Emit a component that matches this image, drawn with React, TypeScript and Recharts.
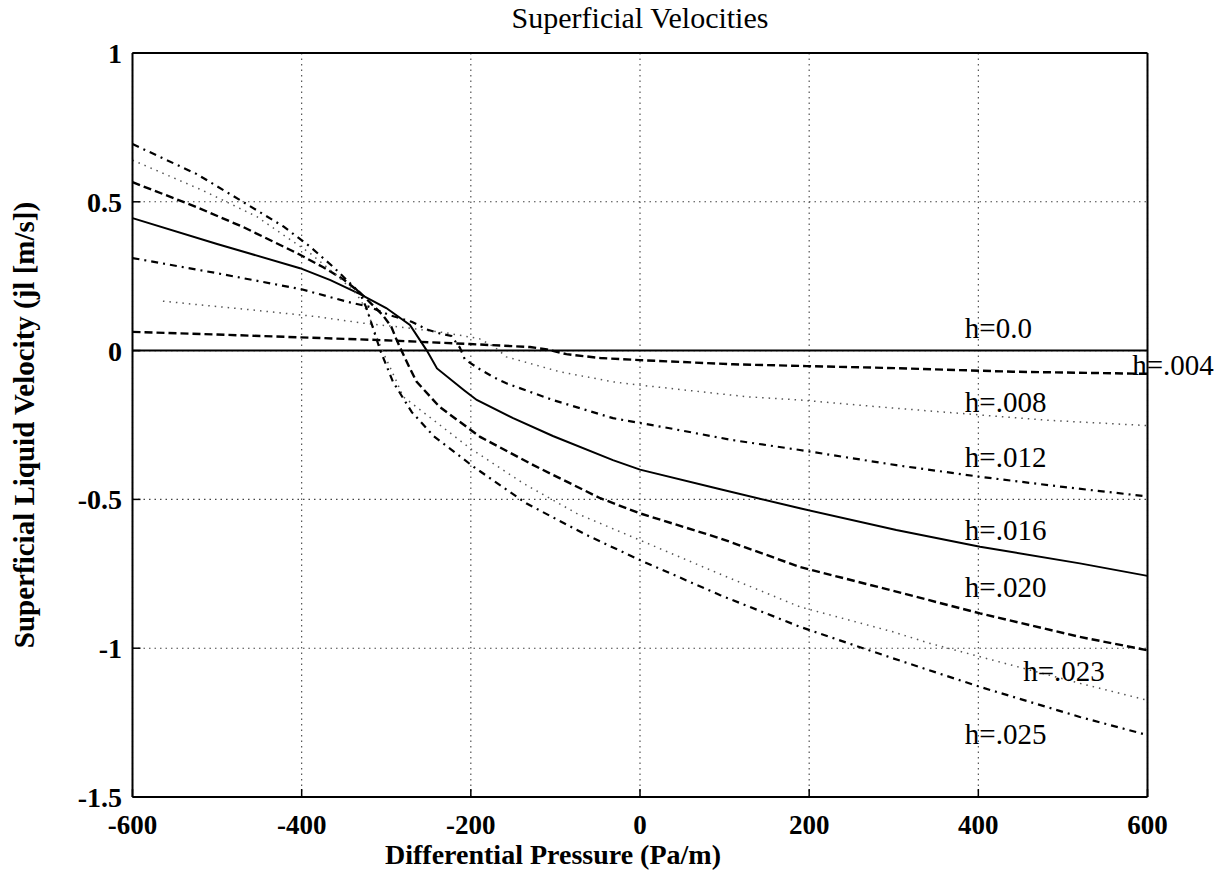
import React from "react";
import { LineChart, Line, XAxis, YAxis, CartesianGrid, ReferenceDot, ReferenceLine } from "recharts";

// Axis ticks
const xTicks = [-600, -400, -200, 0, 200, 400, 600];
const yTicks = [-1.5, -1, -0.5, 0, 0.5, 1];

// Superficial liquid velocity vs differential pressure, one array per liquid height h
const h000 = [
  { x: -600, y: 0 }, { x: 600, y: 0 },
];

const h004 = [
  { x: -600, y: 0.063 }, { x: -500, y: 0.054 }, { x: -406, y: 0.045 }, { x: -304, y: 0.035 },
  { x: -201, y: 0.022 }, { x: -130, y: 0.012 }, { x: -110, y: 0.004 }, { x: -87, y: -0.012 },
  { x: -47, y: -0.025 }, { x: 0, y: -0.032 }, { x: 110, y: -0.046 }, { x: 197, y: -0.052 },
  { x: 303, y: -0.059 }, { x: 441, y: -0.071 }, { x: 600, y: -0.078 },
];

const h008 = [
  { x: -564, y: 0.166 }, { x: -446, y: 0.133 }, { x: -382, y: 0.114 },
  { x: -327, y: 0.092 }, { x: -280, y: 0.078 }, { x: -230, y: 0.06 }, { x: -190, y: 0.04 },
  { x: -172, y: 0.012 }, { x: -158, y: -0.021 }, { x: -95, y: -0.071 }, { x: -32, y: -0.105 },
  { x: 0, y: -0.116 }, { x: 126, y: -0.155 }, { x: 189, y: -0.166 }, { x: 299, y: -0.193 },
  { x: 481, y: -0.234 }, { x: 600, y: -0.252 },
];

const h012 = [
  { x: -600, y: 0.311 }, { x: -500, y: 0.26 }, { x: -400, y: 0.206 }, { x: -346, y: 0.164 },
  { x: -320, y: 0.147 }, { x: -296, y: 0.119 }, { x: -270, y: 0.097 }, { x: -252, y: 0.071 },
  { x: -237, y: 0.058 }, { x: -223, y: 0.049 }, { x: -213, y: 0.01 }, { x: -207, y: -0.03 },
  { x: -191, y: -0.06 }, { x: -174, y: -0.088 }, { x: -158, y: -0.11 }, { x: -103, y: -0.166 },
  { x: -32, y: -0.227 }, { x: 35, y: -0.261 }, { x: 110, y: -0.301 }, { x: 189, y: -0.334 },
  { x: 303, y: -0.385 }, { x: 402, y: -0.424 }, { x: 500, y: -0.458 }, { x: 600, y: -0.49 },
];

const h016 = [
  { x: -600, y: 0.445 }, { x: -500, y: 0.358 }, { x: -402, y: 0.277 }, { x: -366, y: 0.237 },
  { x: -331, y: 0.19 }, { x: -300, y: 0.143 }, { x: -272, y: 0.086 }, { x: -252, y: 0.0 },
  { x: -240, y: -0.06 }, { x: -208, y: -0.133 }, { x: -193, y: -0.166 }, { x: -150, y: -0.227 },
  { x: -103, y: -0.287 }, { x: -32, y: -0.368 }, { x: 0, y: -0.4 }, { x: 95, y: -0.466 },
  { x: 189, y: -0.53 }, { x: 303, y: -0.603 }, { x: 402, y: -0.659 }, { x: 520, y: -0.715 },
  { x: 600, y: -0.757 },
];

const h020 = [
  { x: -600, y: 0.566 }, { x: -524, y: 0.482 }, { x: -469, y: 0.415 }, { x: -406, y: 0.328 },
  { x: -375, y: 0.281 }, { x: -351, y: 0.24 }, { x: -331, y: 0.195 }, { x: -304, y: 0.119 },
  { x: -294, y: 0.08 }, { x: -288, y: 0.038 }, { x: -282, y: 0.0 }, { x: -272, y: -0.06 },
  { x: -264, y: -0.105 }, { x: -237, y: -0.189 }, { x: -189, y: -0.29 }, { x: -126, y: -0.385 },
  { x: -47, y: -0.496 }, { x: 0, y: -0.547 }, { x: 95, y: -0.631 }, { x: 189, y: -0.727 },
  { x: 303, y: -0.81 }, { x: 402, y: -0.883 }, { x: 520, y: -0.962 }, { x: 600, y: -1.007 },
];

const h023 = [
  { x: -600, y: 0.64 }, { x: -516, y: 0.537 }, { x: -453, y: 0.45 }, { x: -390, y: 0.327 },
  { x: -359, y: 0.254 }, { x: -335, y: 0.19 }, { x: -322, y: 0.13 }, { x: -312, y: 0.05 },
  { x: -303, y: -0.01 }, { x: -290, y: -0.09 }, { x: -280, y: -0.155 }, { x: -201, y: -0.328 },
  { x: -138, y: -0.446 }, { x: -75, y: -0.547 }, { x: 0, y: -0.637 }, { x: 98, y: -0.755 },
  { x: 189, y: -0.861 }, { x: 299, y: -0.945 }, { x: 343, y: -0.984 }, { x: 520, y: -1.118 },
  { x: 600, y: -1.175 },
];

const h025 = [
  { x: -600, y: 0.694 }, { x: -524, y: 0.593 }, { x: -473, y: 0.506 }, { x: -422, y: 0.418 },
  { x: -390, y: 0.349 }, { x: -363, y: 0.282 }, { x: -343, y: 0.227 }, { x: -331, y: 0.193 },
  { x: -323, y: 0.14 }, { x: -315, y: 0.07 }, { x: -307, y: 0.0 }, { x: -292, y: -0.105 },
  { x: -270, y: -0.206 }, { x: -244, y: -0.287 }, { x: -197, y: -0.39 }, { x: -134, y: -0.514 },
  { x: -63, y: -0.62 }, { x: 0, y: -0.704 }, { x: 95, y: -0.822 }, { x: 189, y: -0.928 },
  { x: 299, y: -1.034 }, { x: 402, y: -1.13 }, { x: 520, y: -1.231 }, { x: 600, y: -1.292 },
];

// curve annotations, placed in data units
const curveLabels = [
  { text: "h=0.0", x: 384, y: 0.076 },
  { text: "h=.004", x: 582, y: -0.049 },
  { text: "h=.008", x: 384, y: -0.173 },
  { text: "h=.012", x: 384, y: -0.358 },
  { text: "h=.016", x: 384, y: -0.603 },
  { text: "h=.020", x: 384, y: -0.795 },
  { text: "h=.023", x: 453, y: -1.074 },
  { text: "h=.025", x: 384, y: -1.286 },
];

const FONT = '"Liberation Serif", "Times New Roman", Times, serif';

// matlab line style cycle: solid, dashed, dotted, dash-dot
const STYLE = {
  solid: { stroke: "#000", strokeWidth: 2, strokeDasharray: undefined },
  dashed: { stroke: "#000", strokeWidth: 2.4, strokeDasharray: "8 4" },
  dotted: { stroke: "#555", strokeWidth: 1.5, strokeDasharray: "1.5 5" },
  dashdot: { stroke: "#000", strokeWidth: 2.2, strokeDasharray: "7 5 2 5" },
};

const series = [
  { key: "h000", data: h000, style: STYLE.solid },
  { key: "h004", data: h004, style: STYLE.dashed },
  { key: "h008", data: h008, style: STYLE.dotted },
  { key: "h012", data: h012, style: STYLE.dashdot },
  { key: "h016", data: h016, style: STYLE.solid },
  { key: "h020", data: h020, style: STYLE.dashed },
  { key: "h023", data: h023, style: STYLE.dotted },
  { key: "h025", data: h025, style: STYLE.dashdot },
];

const xTickStyle = { fill: "#000", fontSize: 27, fontWeight: "bold", fontFamily: FONT };
const yTickStyle = { fill: "#000", fontSize: 28, fontWeight: "bold", fontFamily: FONT };
const axisLineStyle = { stroke: "#000", strokeWidth: 2 };
const tickLineStyle = { stroke: "#000", strokeWidth: 1.5 };

export default function App() {
  return (
    <div style={{ position: "absolute", left: 0, top: 0, width: 1229, height: 870, background: "#fff" }}>
      <LineChart width={1229} height={870} margin={{ top: 53, right: 81.5, bottom: 0, left: 0 }}>
        <CartesianGrid stroke="#444" strokeWidth={1.1} strokeDasharray="1.5 4" />
        <XAxis
          type="number"
          dataKey="x"
          domain={[-600, 600]}
          ticks={xTicks}
          interval={0}
          height={73}
          axisLine={axisLineStyle}
          tickLine={tickLineStyle}
          tickSize={-8}
          tickMargin={25.8}
          tick={xTickStyle}
          label={{
            value: "Differential Pressure (Pa/m)",
            position: "insideBottom",
            offset: 6,
            dx: -87,
            fill: "#000",
            fontSize: 28,
            fontWeight: "bold",
            fontFamily: FONT,
          }}
        />
        <YAxis
          type="number"
          domain={[-1.5, 1]}
          ticks={yTicks}
          interval={0}
          width={132.5}
          axisLine={axisLineStyle}
          tickLine={tickLineStyle}
          tickSize={-8}
          tickMargin={18.5}
          tick={yTickStyle}
          label={{
            value: "Superficial Liquid Velocity (jl [m/s])",
            position: "insideLeft",
            angle: -90,
            offset: 24,
            fill: "#000",
            fontSize: 29,
            fontWeight: "bold",
            fontFamily: FONT,
            style: { textAnchor: "middle" },
          }}
        />
        {/* box border and title */}
        <ReferenceLine
          y={1}
          stroke="#000"
          strokeWidth={2}
          label={{
            value: "Superficial Velocities",
            position: "top",
            offset: 25,
            fill: "#000",
            fontSize: 30,
            fontFamily: FONT,
          }}
        />
        <ReferenceLine x={600} stroke="#000" strokeWidth={2} />
        {series.map((s) => (
          <Line
            key={s.key}
            data={s.data}
            dataKey="y"
            type="linear"
            dot={false}
            activeDot={false}
            isAnimationActive={false}
            stroke={s.style.stroke}
            strokeWidth={s.style.strokeWidth}
            strokeDasharray={s.style.strokeDasharray}
          />
        ))}
        {curveLabels.map((l) => (
          <ReferenceDot
            key={l.text}
            x={l.x}
            y={l.y}
            r={0}
            fill="none"
            stroke="none"
            label={{
              value: l.text,
              position: "right",
              offset: 0,
              fill: "#000",
              fontSize: 29,
              fontFamily: FONT,
            }}
          />
        ))}
      </LineChart>
    </div>
  );
}
